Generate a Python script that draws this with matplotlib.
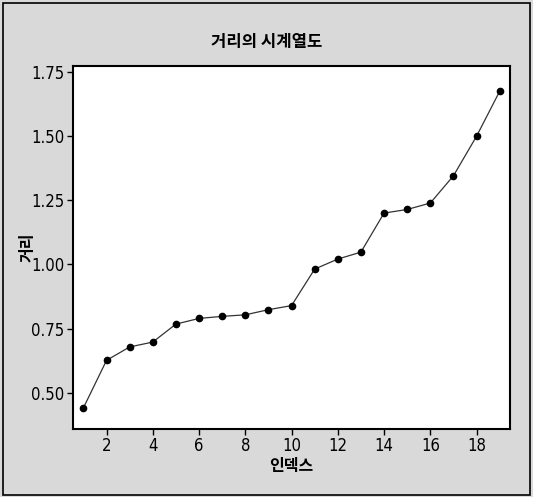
import matplotlib
matplotlib.use("Agg")
import matplotlib.pyplot as plt
from matplotlib.patches import Rectangle

# Data
index = list(range(1, 20))
distance = [0.442, 0.627, 0.679, 0.698, 0.768, 0.790, 0.798, 0.804, 0.824, 0.840,
            0.982, 1.021, 1.048, 1.200, 1.214, 1.239, 1.345, 1.499, 1.674]
xticks = [2, 4, 6, 8, 10, 12, 14, 16, 18]
yticks = [0.50, 0.75, 1.00, 1.25, 1.50, 1.75]
title = "거리의 시계열도"
xlabel = "인덱스"
ylabel = "거리"

num_font = ['DejaVu Sans']
kr_font = ['Noto Sans CJK KR', 'DejaVu Sans']

bg = '#d9d9d9'
fig = plt.figure(figsize=(5.33, 4.97), dpi=100, facecolor=bg)
ax = fig.add_axes([0.137, 0.137, 0.820, 0.730])
ax.set_facecolor('white')

ax.plot(index, distance, color='#333333', linewidth=0.9, marker='o',
        markersize=4.5, markerfacecolor='black', markeredgecolor='black')

ax.set_xlim(0.55, 19.45)
ax.set_ylim(0.36, 1.772)
ax.set_xticks(xticks)
ax.set_yticks(yticks)
ax.set_xticklabels([str(t) for t in xticks], family=num_font,
                   fontstretch='condensed', fontsize=12)
ax.set_yticklabels([f"{t:.2f}" for t in yticks], family=num_font,
                   fontstretch='condensed', fontsize=12)
ax.tick_params(direction='out', length=4, width=1, color='black', pad=2,
               top=False, right=False)
for s in ax.spines.values():
    s.set_color('black')
    s.set_linewidth(1.5)

ax.set_xlabel(xlabel, family=kr_font, fontweight='bold', fontsize=11.5)
ax.set_ylabel(ylabel, family=kr_font, fontweight='bold', fontsize=11.5)
ax.xaxis.set_label_coords(0.5, -0.08)
ax.yaxis.set_label_coords(-0.085, 0.5)
fig.text(0.5, 1 - 42 / 497, title, family=kr_font, fontweight='bold',
         fontsize=12, ha='center', va='center')

# outer frame
fig.patches.append(Rectangle((3 / 533, 2 / 497), 527 / 533, 492 / 497,
                             transform=fig.transFigure, fill=False,
                             edgecolor='black', linewidth=1.2))

fig.savefig('out.png', dpi=100, facecolor=bg)
